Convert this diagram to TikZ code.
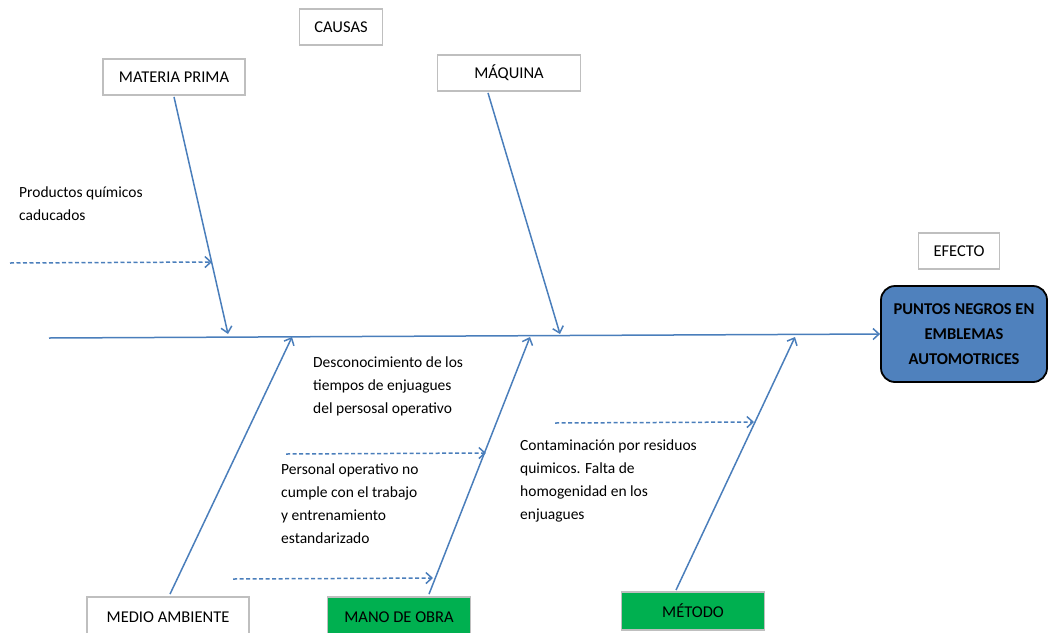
\documentclass[tikz,border=0pt]{standalone}
\usepackage{fontspec}
\setmainfont{Carlito}
\usetikzlibrary{arrows.meta, positioning}
\definecolor{ribblue}{HTML}{4A7EBB}
\definecolor{boxgray}{HTML}{BFBFBF}
\definecolor{effblue}{HTML}{4F81BD}
\definecolor{catgreen}{HTML}{00B050}

\begin{document}
\begin{tikzpicture}[x=1pt,y=-1pt,
  catbox/.style={draw=boxgray,line width=1.8pt,fill=white,minimum height=36pt,inner sep=0pt,font=\fontsize{16.5}{18}\selectfont},
  rib/.style={draw=ribblue,line width=1.5pt,-{Straight Barb[length=6pt,width=11pt]}},
  subrib/.style={draw=ribblue,line width=1.5pt,dash pattern=on 4pt off 2.5pt,-{Straight Barb[length=6pt,width=11pt]}},
  note/.style={align=left,anchor=north west,inner sep=0pt,font=\fontsize{15.5}{23}\selectfont}]
\useasboundingbox (0,0) rectangle (1048,632);
\clip (0,0) rectangle (1048,632);

\node[catbox,minimum width=83pt] (causas) at (341,27) {CAUSAS};
\node[catbox,minimum width=142pt] (materia) at (174,77) {MATERIA PRIMA};
\node[catbox,minimum width=143pt] (maquina) at (509,73) {MÁQUINA};
\node[catbox,minimum width=81pt] (efecto) at (959,251) {EFECTO};
\node[draw=black,line width=1.8pt,rounded corners=14pt,fill=effblue,minimum width=166pt,minimum height=96pt,align=center,
  font=\fontsize{16.5}{25}\selectfont\bfseries] (punto) at (964,334) {PUNTOS NEGROS EN\\EMBLEMAS\\AUTOMOTRICES};

\node[catbox,minimum width=162pt,minimum height=40pt] (medio) at (168,617) {MEDIO AMBIENTE};
\node[catbox,fill=catgreen,minimum width=143pt,minimum height=40pt] (mano) at (399,617) {MANO DE OBRA};
\node[catbox,fill=catgreen,minimum width=143pt,minimum height=38pt] (metodo) at (693,611) {MÉTODO};

\coordinate (tail) at (49,338);
\coordinate (s1) at (228,334);
\coordinate (s2) at (292,337);
\coordinate (s3) at (530,337);
\coordinate (s4) at (560,334);
\coordinate (s5) at (795,337);

\draw[rib] (tail) -- (punto.west);
\draw[rib] (materia.south) ++(0,1) -- (s1);
\draw[rib] (maquina.south) ++(-21,1) -- (s4);
\draw[rib] (medio.north) ++(2,-2) -- (s2);
\draw[rib] (mano.north) ++(30,-2) -- (s3);
\draw[rib] (metodo.north) ++(-17,-1) -- (s5);

\coordinate (d1a) at (10,263);
\coordinate (d1b) at (212,262);
\coordinate (d2a) at (286,454);
\coordinate (d2b) at (486,453);
\coordinate (d3a) at (233,579);
\coordinate (d3b) at (433,578);
\coordinate (d4a) at (555,423);
\coordinate (d4b) at (754,422);
\draw[subrib] (d1a) -- (d1b);
\draw[subrib] (d2a) -- (d2b);
\draw[subrib] (d3a) -- (d3b);
\draw[subrib] (d4a) -- (d4b);

\node[note] (t1) at (19,187) {Productos químicos\\caducados};
\node[note] (t2) at (313,357) {Desconocimiento de los\\tiempos de enjuagues\\del persosal operativo};
\node[note] (t3) at (281,464) {Personal operativo no\\cumple con el trabajo\\y entrenamiento\\estandarizado};
\node[note] (t4) at (520,440) {Contaminación por residuos\\quimicos. Falta de\\homogenidad en los\\enjuagues};
\end{tikzpicture}
\end{document}
